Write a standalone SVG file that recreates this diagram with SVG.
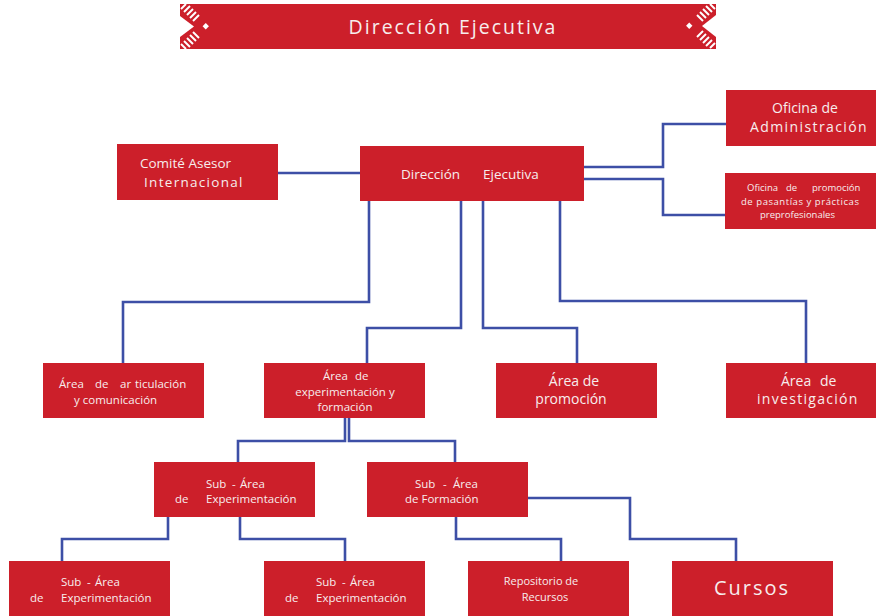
<svg xmlns="http://www.w3.org/2000/svg" width="876" height="616" viewBox="0 0 876 616">
  <style>
    .box { fill: #cc1f2a; }
    .lbl { font-family: "Open Sans", "Noto Sans", "DejaVu Sans", sans-serif; fill: #f7eded; }
    .wire { fill: none; stroke: #3d4fa6; stroke-width: 2.6; stroke-linejoin: miter; }
    .deco { stroke: #ffffff; stroke-width: 2; }
  </style>
  <defs>
    <clipPath id="barClip"><rect x="180" y="4" width="536" height="45"/></clipPath>
  </defs>

  <rect width="876" height="616" fill="#ffffff"/>

  <!-- title banner -->
  <g id="banner">
    <rect class="box" x="180" y="4" width="536" height="45"/>
    <g clip-path="url(#barClip)">
      <!-- left chevron motif -->
      <polygon points="180,16 194,26.5 180,37" fill="#ffffff"/>
      <g class="deco">
        <line x1="181" y1="9" x2="186" y2="4"/>
        <line x1="184" y1="12" x2="190" y2="6"/>
        <line x1="187" y1="15" x2="193" y2="9"/>
        <line x1="190" y1="18" x2="196" y2="12"/>
        <line x1="193" y1="21" x2="199" y2="15"/>
        <line x1="181" y1="44" x2="186" y2="49"/>
        <line x1="184" y1="41" x2="190" y2="47"/>
        <line x1="187" y1="38" x2="193" y2="44"/>
        <line x1="190" y1="35" x2="196" y2="41"/>
        <line x1="193" y1="32" x2="199" y2="38"/>
      </g>
      <rect x="203.5" y="24" width="4.5" height="4.5" fill="#ffffff" transform="rotate(45 205.75 26.25)"/>
      <!-- right chevron motif -->
      <polygon points="716,15 702,26 716,37" fill="#ffffff"/>
      <g class="deco">
        <line x1="715" y1="9" x2="710" y2="4"/>
        <line x1="712" y1="12" x2="706" y2="6"/>
        <line x1="709" y1="15" x2="703" y2="9"/>
        <line x1="706" y1="18" x2="700" y2="12"/>
        <line x1="703" y1="21" x2="697" y2="15"/>
        <line x1="715" y1="43" x2="710" y2="48"/>
        <line x1="712" y1="40" x2="706" y2="46"/>
        <line x1="709" y1="37" x2="703" y2="43"/>
        <line x1="706" y1="34" x2="700" y2="40"/>
        <line x1="703" y1="31" x2="697" y2="37"/>
      </g>
      <rect x="687" y="23.5" width="4.5" height="4.5" fill="#ffffff" transform="rotate(45 689.25 25.75)"/>
    </g>
    <text class="lbl" x="453" y="34" font-size="19.5" letter-spacing="2" text-anchor="middle">Dirección Ejecutiva</text>
  </g>

  <!-- connectors -->
  <g id="connectors">
    <path class="wire" d="M278,173 H360"/>
    <path class="wire" d="M584,167 H663 V124 H726"/>
    <path class="wire" d="M584,179 H663 V215 H725"/>
    <path class="wire" d="M369,201 V302 H123 V363"/>
    <path class="wire" d="M461,201 V328 H367 V363"/>
    <path class="wire" d="M483,201 V328 H577 V363"/>
    <path class="wire" d="M560,201 V301 H806 V363"/>
    <path class="wire" d="M345,418 V441 H238 V462"/>
    <path class="wire" d="M349,418 V441 H455 V462"/>
    <path class="wire" d="M168,517 V539 H62 V561"/>
    <path class="wire" d="M240,517 V539 H345 V561"/>
    <path class="wire" d="M456,517 V539 H561 V561"/>
    <path class="wire" d="M528,498 H630 V539 H736 V561"/>
  </g>

  <g id="direccion">
    <rect class="box" x="360" y="146" width="224" height="55"/>
    <text class="lbl" font-size="13.5" y="179"><tspan x="401">Dirección</tspan><tspan x="483">Ejecutiva</tspan></text>
  </g>

  <g id="comite">
    <rect class="box" x="117" y="144" width="161" height="56"/>
    <text class="lbl" font-size="13.5" x="140" y="168">Comité Asesor</text>
    <text class="lbl" font-size="13.5" x="144" y="187" letter-spacing="1.3">Internacional</text>
  </g>

  <g id="administracion">
    <rect class="box" x="726" y="90" width="150" height="56"/>
    <text class="lbl" font-size="14" x="772" y="113">Oficina de</text>
    <text class="lbl" font-size="14" x="750" y="132" letter-spacing="1.4">Administración</text>
  </g>

  <g id="pasantias">
    <rect class="box" x="725" y="173" width="151" height="56"/>
    <text class="lbl" font-size="9.5" y="191"><tspan x="747">Oficina</tspan><tspan x="786">de</tspan><tspan x="812">promoción</tspan></text>
    <text class="lbl" font-size="9.5" x="741" y="204.5" letter-spacing="0.55">de pasantías y prácticas</text>
    <text class="lbl" font-size="9.5" x="760" y="218">preprofesionales</text>
  </g>

  <g id="articulacion">
    <rect class="box" x="43" y="363" width="161" height="55"/>
    <text class="lbl" font-size="11.5" y="388"><tspan x="59">Área</tspan><tspan x="95">de</tspan><tspan x="120">ar</tspan><tspan x="135">ticulación</tspan></text>
    <text class="lbl" font-size="11.5" x="74" y="404">y comunicación</text>
  </g>

  <g id="experimentacion-formacion">
    <rect class="box" x="264" y="363" width="161" height="55"/>
    <text class="lbl" font-size="11.5" y="380"><tspan x="323">Área</tspan><tspan x="355">de</tspan></text>
    <text class="lbl" font-size="11.5" x="345" y="396" text-anchor="middle">experimentación y</text>
    <text class="lbl" font-size="11.5" x="345" y="411" text-anchor="middle">formación</text>
  </g>

  <g id="promocion">
    <rect class="box" x="496" y="363" width="161" height="55"/>
    <text class="lbl" font-size="14" x="574" y="386" text-anchor="middle">Área de</text>
    <text class="lbl" font-size="14" x="571" y="404" text-anchor="middle">promoción</text>
  </g>

  <g id="investigacion">
    <rect class="box" x="726" y="363" width="150" height="55"/>
    <text class="lbl" font-size="14" y="386"><tspan x="781">Área</tspan><tspan x="820">de</tspan></text>
    <text class="lbl" font-size="14" x="757" y="404" letter-spacing="1.3">investigación</text>
  </g>

  <g id="sub-experimentacion">
    <rect class="box" x="154" y="462" width="161" height="55"/>
    <text class="lbl" font-size="11.5" y="488"><tspan x="206">Sub</tspan><tspan x="232">-</tspan><tspan x="240">Área</tspan></text>
    <text class="lbl" font-size="11.5" y="503"><tspan x="175">de</tspan><tspan x="206">Experimentación</tspan></text>
  </g>

  <g id="sub-formacion">
    <rect class="box" x="367" y="462" width="161" height="55"/>
    <text class="lbl" font-size="11.5" y="488"><tspan x="415">Sub</tspan><tspan x="443">-</tspan><tspan x="453">Área</tspan></text>
    <text class="lbl" font-size="11.5" x="405" y="503">de Formación</text>
  </g>

  <g id="sub-experimentacion-a">
    <rect class="box" x="9" y="561" width="161" height="55"/>
    <text class="lbl" font-size="11.5" y="586"><tspan x="61">Sub</tspan><tspan x="87">-</tspan><tspan x="95">Área</tspan></text>
    <text class="lbl" font-size="11.5" y="602"><tspan x="30">de</tspan><tspan x="61">Experimentación</tspan></text>
  </g>

  <g id="sub-experimentacion-b">
    <rect class="box" x="264" y="561" width="161" height="55"/>
    <text class="lbl" font-size="11.5" y="586"><tspan x="316">Sub</tspan><tspan x="342">-</tspan><tspan x="350">Área</tspan></text>
    <text class="lbl" font-size="11.5" y="602"><tspan x="285">de</tspan><tspan x="316">Experimentación</tspan></text>
  </g>

  <g id="repositorio">
    <rect class="box" x="468" y="561" width="161" height="55"/>
    <text class="lbl" font-size="11" x="541" y="585" text-anchor="middle">Repositorio de</text>
    <text class="lbl" font-size="11" x="545" y="601" text-anchor="middle">Recursos</text>
  </g>

  <g id="cursos">
    <rect class="box" x="672" y="561" width="161" height="55"/>
    <text class="lbl" font-size="20" x="752" y="595" letter-spacing="2" text-anchor="middle">Cursos</text>
  </g>
</svg>
